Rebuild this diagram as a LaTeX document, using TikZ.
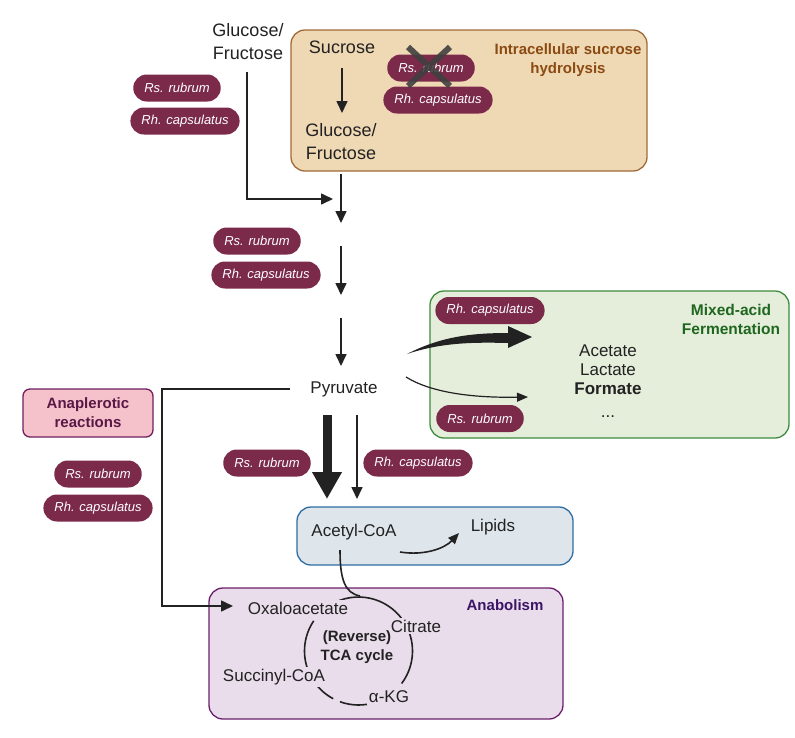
\documentclass[tikz,border=0pt]{standalone}
\usepackage{fontspec}
\setmainfont{Liberation Sans}
\usetikzlibrary{arrows.meta}
\definecolor{pillc}{HTML}{7B2A4A}
\definecolor{tanfill}{HTML}{EFD8B4}
\definecolor{tanline}{HTML}{A06A38}
\definecolor{tantext}{HTML}{8B4A12}
\definecolor{grfill}{HTML}{E4EEDB}
\definecolor{grline}{HTML}{3D8B3D}
\definecolor{grtext}{HTML}{1F661F}
\definecolor{pkfill}{HTML}{F5C2CB}
\definecolor{pkline}{HTML}{6E2060}
\definecolor{pktext}{HTML}{5A1846}
\definecolor{blfill}{HTML}{DEE6EC}
\definecolor{blline}{HTML}{2F6DA3}
\definecolor{pufill}{HTML}{E9DCEB}
\definecolor{puline}{HTML}{6B1F6B}
\definecolor{putext}{HTML}{3C1466}
\definecolor{ink}{HTML}{222222}
\begin{document}
\begin{tikzpicture}[x=1pt,y=-1pt,
  pill/.style={fill=pillc,text=white,rounded corners=13.5pt,minimum height=27pt,inner xsep=11pt,inner ysep=0pt,font=\fontsize{13}{15}\selectfont\itshape},
  lbl/.style={text=ink,inner sep=1pt,font=\fontsize{17}{21}\selectfont},
  biglbl/.style={text=ink,inner sep=1pt,align=center,font=\fontsize{18}{23}\selectfont},
  ttl/.style={align=center,inner sep=0pt,font=\fontsize{15}{19}\selectfont\bfseries},
  box/.style={rounded corners=14pt,line width=1.3pt,inner sep=0pt},
  arr/.style={draw=ink,line width=1.6pt,-{Triangle[length=12pt,width=11pt]}},
  ln/.style={draw=ink,line width=1.6pt},
  cyc/.style={lbl,fill=pufill,inner sep=2pt}]
\useasboundingbox (0,0) rectangle (795,737);
\fill[white] (0,0) rectangle (795,737);

% ---------- boxes ----------
\node[box,draw=tanline,fill=tanfill,minimum width=356pt,minimum height=141pt] (sucbox) at (469,100.5) {};
\node[box,draw=grline,fill=grfill,minimum width=359pt,minimum height=147pt] (fermbox) at (609.5,364.5) {};
\node[box,draw=pkline,fill=pkfill,rounded corners=7pt,minimum width=130pt,minimum height=48pt] (anabox) at (88,413) {};
\node[box,draw=blline,fill=blfill,minimum width=276pt,minimum height=58pt] (acbox) at (435,536) {};
\node[box,draw=puline,fill=pufill,minimum width=354pt,minimum height=131pt] (pubox) at (386,653.5) {};

% ---------- top ----------
\node[biglbl] (glctop) at (248,42) {Glucose/\\Fructose};
\node[biglbl] (sucrose) at (342,47) {Sucrose};
\node[biglbl] (glcin) at (341,142) {Glucose/\\Fructose};
\node[ttl,text=tantext] (t1) at (568,60) {Intracellular sucrose\\hydrolysis};
\node[pill] (rsA) at (431,68) {Rs. rubrum};
\node[pill] (rhA) at (438,100) {Rh. capsulatus};
\draw[line width=6pt,draw=black!75,opacity=0.9] (408,47) -- (450,86) (450,47) -- (408,86);

\coordinate (s1) at (342,68);
\coordinate (s2) at (342,113);
\draw[arr] (s1) -- (s2);

\node[pill] (rsB) at (177,88) {Rs. rubrum};
\node[pill] (rhB) at (185,121) {Rh. capsulatus};

\coordinate (gA) at (247,72);
\coordinate (gB) at (333,199);
\draw[arr] (gA) |- (gB);

\coordinate (c1) at (341,174);
\coordinate (c2) at (341,223);
\draw[arr] (c1) -- (c2);

\node[pill] (rsC) at (257,241) {Rs. rubrum};
\node[pill] (rhC) at (266,275) {Rh. capsulatus};
\coordinate (c3) at (341,246);
\coordinate (c4) at (341,295);
\draw[arr] (c3) -- (c4);
\coordinate (c5) at (341,318);
\coordinate (c6) at (341,366);
\draw[arr] (c5) -- (c6);

\node[lbl] (pyr) at (344,389) {Pyruvate};

% ---------- fermentation ----------
\node[ttl,text=grtext,font=\fontsize{15.5}{19.5}\selectfont\bfseries] (t2) at (731,319.5) {Mixed-acid\\Fermentation};
\node[pill] (rhF) at (490,310.5) {Rh. capsulatus};
\node[pill] (rsF) at (480,418.5) {Rs. rubrum};
\node[lbl] (acet) at (608,351) {Acetate};
\node[lbl] (lact) at (608,370) {Lactate};
\node[lbl,font=\fontsize{17}{21}\selectfont\bfseries] (form) at (608,389) {Formate};
\node[lbl] (dots) at (608,417) {...};

\coordinate (f1) at (407,354);
\coordinate (f2) at (532,337);
\fill[ink] (f1) .. controls (440,337) and (470,333) .. (508,333) -- (508,326) -- (f2) -- (508,348) -- (508,343)
  .. controls (470,342) and (440,343) .. (f1) -- cycle;
\coordinate (f3) at (406,377);
\coordinate (f4) at (528,397);
\draw[draw=ink,line width=1.2pt,-{Triangle[length=11pt,width=9pt]}] (f3) .. controls (430,392) and (470,398) .. (f4);

% ---------- anaplerotic ----------
\node[ttl,text=pktext] (t3) at (anabox.center) {Anaplerotic\\reactions};
\node[pill] (rsD) at (98,474) {Rs. rubrum};
\node[pill] (rhD) at (98,508) {Rh. capsulatus};
\coordinate (a1) at (290,389);
\coordinate (a2) at (162,389);
\coordinate (a3) at (233,606);
\draw[arr] (a1) -- (a2) |- (a3);

% ---------- pyruvate to acetyl-CoA ----------
\coordinate (p1) at (327,415);
\coordinate (p2) at (327,499);
\draw[draw=ink,line width=9pt,-{Triangle[length=27pt,width=28pt]}] (p1) -- (p2);
\coordinate (p3) at (357,415);
\coordinate (p4) at (357,499);
\draw[arr] (p3) -- (p4);
\node[pill] (rsE) at (267,463) {Rs. rubrum};
\node[pill] (rhE) at (418,463) {Rh. capsulatus};

% ---------- acetyl-CoA ----------
\node[lbl] (acoa) at (354,532) {Acetyl-CoA};
\node[lbl] (lip) at (493,527) {Lipids};
\coordinate (l1) at (400,552);
\coordinate (l2) at (459,533);
\draw[draw=ink,line width=1.6pt,-{Triangle[length=11pt,width=9pt]}] (l1) .. controls (425,556) and (445,548) .. (l2);

% ---------- anabolism ----------
\node[ttl,text=putext] (t4) at (505,605) {Anabolism};
\coordinate (cc) at (358.5,651);
\draw[ink,line width=1.6pt]
  (cc) ++(-37:54pt) arc[start angle=-37,end angle=22,radius=54pt]
  (cc) ++(30:54pt) arc[start angle=30,end angle=115,radius=54pt]
  (cc) ++(146:54pt) arc[start angle=146,end angle=200,radius=54pt]
  (cc) ++(212:54pt) arc[start angle=212,end angle=242,radius=54pt]
  (cc) ++(250:54pt) arc[start angle=250,end angle=288,radius=54pt];
\coordinate (k1) at (340,550);
\coordinate (k2) at (360,596);
\draw[ln] (k1) .. controls (340,580) and (345,593) .. (k2);
\node[cyc] (oxa) at (298,608) {Oxaloacetate};
\node[cyc] (cit) at (416,626) {Citrate};
\node[cyc] (suc) at (274,677) {Succinyl-CoA};
\node[cyc] (akg) at (389,697) {α-KG};
\node[ttl,text=ink] (tca) at (357,647) {(Reverse)\\TCA cycle};
\end{tikzpicture}
\end{document}
